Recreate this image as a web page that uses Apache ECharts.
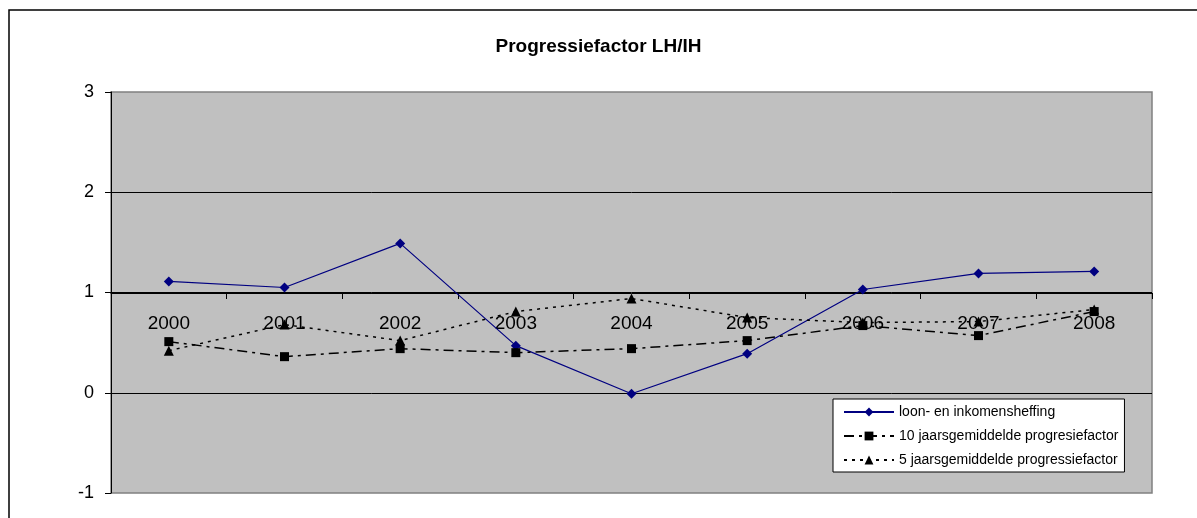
<!DOCTYPE html>
<html>
<head>
<meta charset="utf-8">
<script src="https://cdn.jsdelivr.net/npm/echarts@6/dist/echarts.min.js"></script>
<style>
  html, body { margin: 0; padding: 0; background: #fff; }
  #chart { width: 1197px; height: 518px; }
</style>
</head>
<body>
<div id="chart"></div>
<script>
// jaren (x-as)
var years = ['2000', '2001', '2002', '2003', '2004', '2005', '2006', '2007', '2008']
// loon- en inkomensheffing
var loonIH = [1.11, 1.05, 1.49, 0.47, -0.01, 0.39, 1.03, 1.19, 1.21]
// 10 jaarsgemiddelde
var gem10 = [0.51, 0.36, 0.44, 0.40, 0.44, 0.52, 0.67, 0.57, 0.81]
// 5 jaarsgemiddelde
var gem5 = [0.42, 0.68, 0.52, 0.81, 0.94, 0.75, 0.70, 0.71, 0.83]

var myChart = echarts.init(document.getElementById('chart'))
var option = {
  animation: false,
  backgroundColor: '#fff',
  title: {
    text: 'Progressiefactor LH/IH',
    left: 'center',
    top: 32,
    textStyle: {
      fontFamily: 'Arial, "Liberation Sans", sans-serif',
      fontSize: 19,
      fontWeight: 'bold',
      color: '#000',
    },
  },
  graphic: [
    {
      type: 'rect',
      shape: { x: 9, y: 10, width: 1400, height: 700 },
      style: { fill: null, stroke: '#000', lineWidth: 1.5 },
      z: 0,
    },
  ],
  legend: {
    orient: 'vertical',
    left: 833,
    top: 399,
    padding: [6, 6, 5, 10],
    itemGap: 10,
    itemWidth: 50,
    itemHeight: 11,
    backgroundColor: '#fff',
    borderColor: '#000',
    borderWidth: 1,
    textStyle: {
      fontFamily: 'Arial, "Liberation Sans", sans-serif',
      fontSize: 14,
      color: '#000',
    },
  },
  grid: {
    left: 111,
    right: 45,
    top: 92,
    bottom: 25,
    show: true,
    backgroundColor: '#c0c0c0',
    borderColor: '#808080',
    borderWidth: 1.5,
  },
  xAxis: {
    type: 'category',
    data: years,
    position: 'bottom',
    offset: -200,
    axisLine: { show: true, onZero: false, lineStyle: { color: '#000', width: 1 } },
    axisTick: { show: true, length: 6, lineStyle: { color: '#000' } },
    axisLabel: {
      margin: 21,
      fontFamily: 'Arial, "Liberation Sans", sans-serif',
      fontSize: 19,
      color: '#000',
    },
    splitLine: { show: false },
  },
  yAxis: {
    type: 'value',
    min: -1,
    max: 3,
    interval: 1,
    axisLine: { show: true, lineStyle: { color: '#000', width: 1 } },
    axisTick: { show: true, length: 6, lineStyle: { color: '#000' } },
    axisLabel: {
      margin: 17,
      fontFamily: 'Arial, "Liberation Sans", sans-serif',
      fontSize: 18,
      color: '#000',
    },
    splitLine: {
      show: true,
      showMinLine: false,
      showMaxLine: false,
      lineStyle: { color: '#000', width: 1 },
    },
  },
  series: [
    {
      name: 'loon- en inkomensheffing',
      type: 'line',
      data: loonIH,
      symbol: 'diamond',
      symbolSize: 10,
      itemStyle: { color: '#000080' },
      lineStyle: { color: '#000080', width: 1.2 },
    },
    {
      name: '10 jaarsgemiddelde progresiefactor',
      type: 'line',
      data: gem10,
      symbol: 'rect',
      symbolSize: 9,
      itemStyle: { color: '#000' },
      lineStyle: { color: '#000', width: 1.5, type: [10, 5, 3, 5] },
    },
    {
      name: '5 jaarsgemiddelde progressiefactor',
      type: 'line',
      data: gem5,
      symbol: 'triangle',
      symbolSize: 10,
      itemStyle: { color: '#000' },
      lineStyle: { color: '#000', width: 1.5, type: [3, 5] },
    },
  ],
}
myChart.setOption(option)
</script>
</body>
</html>
